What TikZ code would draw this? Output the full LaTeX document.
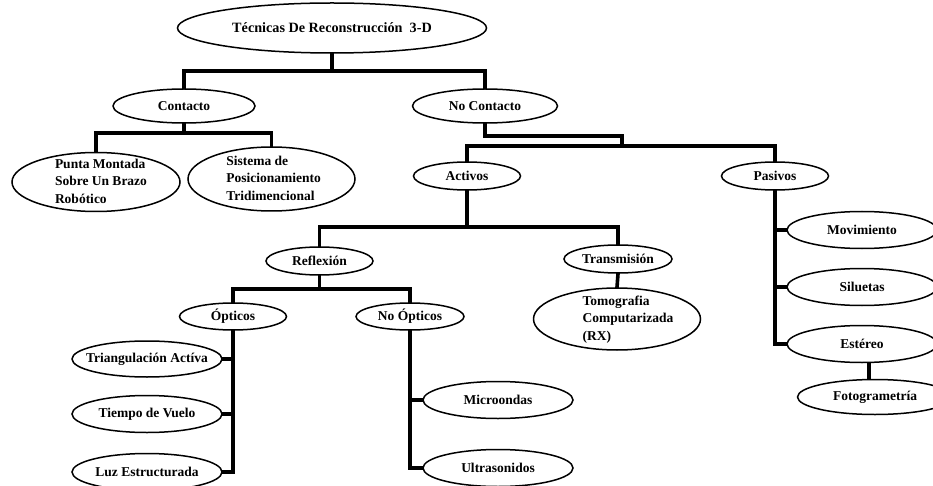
\documentclass[tikz,border=0pt]{standalone}
\usepackage{fontspec}
\setmainfont{Liberation Serif}
\usetikzlibrary{shapes.geometric,backgrounds}
\newcommand{\mylines}[2]{\hspace*{#1}\raisebox{-4pt}{\begin{tabular}{@{}l@{}}#2\end{tabular}}}
\begin{document}
\begin{tikzpicture}[x=1pt,y=-1pt,
  ell/.style={ellipse, draw, line width=1.5pt, inner sep=0pt, fill=white,
    font=\fontsize{13.5}{17.3}\selectfont\bfseries},
  multi/.style={text height=0pt, text depth=0pt},
  conn/.style={line width=3.6pt, line join=miter, line cap=rect}]
\useasboundingbox (0,0) rectangle (933,486);
\clip (0,0) rectangle (933,486);

% row levels of the connector bars
\coordinate (ty) at (0,71);
\coordinate (cy) at (0,133);
\coordinate (ncA) at (622,136);
\coordinate (ncB) at (622,146);
\coordinate (ay) at (0,227);
\coordinate (ry) at (0,289);
\coordinate (fx) at (869,0);

% nodes
\node[ell, minimum width=309, minimum height=50, font=\fontsize{14.2}{17}\selectfont\bfseries] (top) at (332,28) {Técnicas De Reconstrucción\ \ 3-D};
\node[ell, minimum width=142, minimum height=34] (contacto) at (184,106) {Contacto};
\node[ell, minimum width=145, minimum height=34] (nocontacto) at (485,106) {No Contacto};
\node[ell, multi, minimum width=168, minimum height=59] (punta) at (96,182) {\mylines{10pt}{Punta Montada\\Sobre Un Brazo\\Robótico}};
\node[ell, multi, minimum width=167, minimum height=64] (sistema) at (271.5,179) {\mylines{4pt}{Sistema de\\Posicionamiento\\Tridimencional}};
\node[ell, minimum width=107, minimum height=28] (activos) at (467,176) {Activos};
\node[ell, minimum width=107, minimum height=28] (pasivos) at (775,176) {Pasivos};
\node[ell, minimum width=107, minimum height=28] (reflexion) at (319.5,261) {Reflexión};
\node[ell, minimum width=108, minimum height=28] (transmision) at (618,259) {Transmisión};
\node[ell, multi, minimum width=167, minimum height=62] (tomo) at (617,319) {\mylines{22pt}{Tomografia\\Computarizada\\(RX)}};
\node[ell, minimum width=107, minimum height=27] (opticos) at (233,316.5) {Ópticos};
\node[ell, minimum width=108, minimum height=27] (noopticos) at (410,316.5) {No Ópticos};
\node[ell, inner xsep=-11pt, minimum width=150, minimum height=36] (tri) at (147,359) {Triangulación Actíva};
\node[ell, minimum width=150, minimum height=37] (tiempo) at (147,414) {Tiempo de Vuelo};
\node[ell, inner xsep=-2pt, minimum width=150, minimum height=37] (luz) at (147,472) {Luz Estructurada};
\node[ell, minimum width=150, minimum height=37] (micro) at (498,400) {Microondas};
\node[ell, minimum width=150, minimum height=37] (ultra) at (498,468) {Ultrasonidos};
\node[ell, minimum width=150, minimum height=37] (mov) at (862,230) {Movimiento};
\node[ell, minimum width=150, minimum height=37] (silu) at (862,287) {Siluetas};
\node[ell, minimum width=150, minimum height=37] (estereo) at (862,344) {Estéreo};
\node[ell, minimum width=155, minimum height=35] (foto) at (875,397) {Fotogrametría};

% white page and connectors, behind the ellipses
\begin{pgfonlayer}{background}
\fill[white] (0,0) rectangle (933,486);
\draw[conn] (top.south) -- (top.south |- ty) -| (contacto.north);
\draw[conn] (top.south |- ty) -| (nocontacto.north);
\draw[conn] (contacto.south) -- (contacto.south |- cy) -| (punta.north);
\draw[conn] (contacto.south |- cy) -| (sistema.north);
\draw[conn] (nocontacto.south) |- (ncA) -- (ncB);
\draw[conn] (ncB) -| (activos.north);
\draw[conn] (ncB) -| (pasivos.north);
\draw[conn] (activos.south) -- (activos.south |- ay) -| (reflexion.north);
\draw[conn] (activos.south |- ay) -| (transmision.north);
\draw[conn] (transmision.south) -- (tomo.north);
\draw[conn] (reflexion.south) -- (reflexion.south |- ry) -| (opticos.north);
\draw[conn] (reflexion.south |- ry) -| (noopticos.north);
\draw[conn] (opticos.south) |- (tri.east);
\draw[conn] (opticos.south) |- (tiempo.east);
\draw[conn] (opticos.south) |- (luz.east);
\draw[conn] (noopticos.south) |- (micro.west);
\draw[conn] (noopticos.south) |- (ultra.west);
\draw[conn] (pasivos.south) |- (mov.west);
\draw[conn] (pasivos.south) |- (silu.west);
\draw[conn] (pasivos.south) |- (estereo.west);
\draw[conn] (estereo.south -| fx) -- (foto.north -| fx);
\end{pgfonlayer}
\end{tikzpicture}
\end{document}
